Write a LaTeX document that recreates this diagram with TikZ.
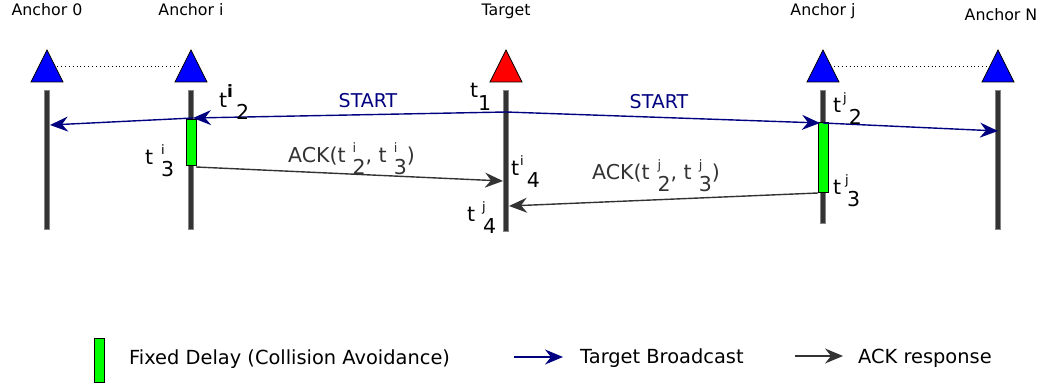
\documentclass[tikz,border=0pt]{standalone}
\usepackage{fontspec}
\setmainfont{DejaVu Sans}
\usetikzlibrary{arrows.meta}
\definecolor{navy}{HTML}{000080}
\definecolor{dgray}{HTML}{333333}
\definecolor{lgreen}{HTML}{00FF00}
\definecolor{tred}{HTML}{FF0000}
\definecolor{tblue}{HTML}{0000FF}
\newcommand\sps[1]{\raisebox{0.5em}{\fontsize{13}{13}\selectfont #1}}
\newcommand\sbs[1]{\raisebox{-0.55em}{#1}}
\begin{document}
\begin{tikzpicture}[x=1pt,y=-1pt,
  lifeline/.style={draw=dgray!60, fill=dgray, minimum width=5pt, inner sep=0pt, line width=0.4pt},
  delay/.style={draw=black, fill=lgreen, minimum width=10pt, inner sep=0pt, line width=1pt},
  antenna/.style={draw=black, line width=0.8pt},
  bcast/.style={draw=navy, line width=1.4pt, -{Stealth[length=18pt,width=15pt,inset=6pt]}},
  ack/.style={draw=dgray, line width=1.4pt, -{Stealth[length=18pt,width=15pt,inset=6pt]}},
  head/.style={font=\fontsize{15.8}{18}\selectfont, text=black},
  tlab/.style={font=\fontsize{20.5}{24}\selectfont, anchor=base west, inner sep=0pt},
  linkdots/.style={draw=black, line width=0.9pt, dash pattern=on 0.9pt off 3pt},
  legtext/.style={font=\fontsize{19.4}{23}\selectfont, anchor=base west, inner sep=0pt}
]
\useasboundingbox (0,0) rectangle (1047,387);

% headers
\node[head] (h0) at (47,10) {Anchor 0};
\node[head] (hi) at (191,10) {Anchor i};
\node[head] (ht) at (506,11) {Target};
\node[head] (hj) at (823,11) {Anchor j};
\node[head] (hN) at (1001,15) {Anchor N};

% antennas
\filldraw[antenna, fill=tblue] (31,82) -- (47,50) -- (63,82) -- cycle;
\filldraw[antenna, fill=tblue] (175,82) -- (191,50) -- (207,82) -- cycle;
\filldraw[antenna, fill=tred] (490,82) -- (506,50) -- (522,82) -- cycle;
\filldraw[antenna, fill=tblue] (807,82) -- (823,50) -- (839,82) -- cycle;
\filldraw[antenna, fill=tblue] (982,82) -- (998,50) -- (1014,82) -- cycle;
\coordinate (d0a) at (57,66);
\coordinate (d0b) at (182,66);
\coordinate (dja) at (834,66);
\coordinate (djb) at (988,66);
\draw[linkdots] (d0a) -- (d0b);
\draw[linkdots] (dja) -- (djb);

% lifelines
\node[lifeline, minimum height=139pt] (l0) at (47,159.5) {};
\node[lifeline, minimum height=139pt] (li) at (191,159.5) {};
\node[lifeline, minimum height=141pt] (lt) at (506,160.5) {};
\node[lifeline, minimum height=133pt] (lj) at (823,156.5) {};
\node[lifeline, minimum height=139pt] (lN) at (998,159.5) {};

% delays
\node[delay, minimum height=46pt] (di) at (191,143) {};
\node[delay, minimum height=70pt] (dj) at (823,158) {};

% broadcast
\coordinate (s0) at (506,112);
\coordinate (ri) at (193,118);
\coordinate (r0) at (50,125);
\coordinate (rj) at (820,123);
\coordinate (rj2) at (823,123);
\coordinate (rN) at (998,131);
\draw[bcast] (s0) -- (ri);
\draw[bcast] (ri) -- (r0);
\draw[bcast] (s0) -- (rj);
\draw[bcast] (rj2) -- (rN);
\node[font=\fontsize{19}{23}\selectfont, text=navy] (st1) at (368,101) {START};
\node[font=\fontsize{19}{23}\selectfont, text=navy] (st2) at (659,102) {START};

% acks
\coordinate (ai) at (196,167);
\coordinate (ait) at (503,181);
\coordinate (aj) at (818,193);
\coordinate (ajt) at (509,206);
\draw[ack] (ai) -- (ait);
\draw[ack] (aj) -- (ajt);
\node[tlab, text=dgray] (acki) at (288,163) {ACK(t\hspace{7pt}\rlap{\sps{i}}\sbs{2}, t\hspace{7pt}\rlap{\sps{i}}\sbs{3})};
\node[tlab, text=dgray] (ackj) at (592,180) {ACK(t\hspace{8pt}\rlap{\sps{j}}\sbs{2}, t\hspace{7pt}\rlap{\sps{j}}\sbs{3})};

% time labels
\node[tlab] (t1) at (470,98) {t\raisebox{-0.6em}{1}};
\node[tlab] (ti2) at (219,108) {t\raisebox{0.5em}{\fontsize{17}{17}\selectfont\bfseries i}\hspace{3pt}\sbs{2}};
\node[tlab] (ti3) at (145,165) {t\hspace{8pt}\rlap{\sps{i}}\sbs{3}};
\node[tlab] (ti4) at (511,176) {t\hspace{1pt}\sps{i}\hspace{3pt}\sbs{4}};
\node[tlab] (tj4) at (467,222) {t\hspace{7pt}\rlap{\sps{j}}\hspace{1pt}\sbs{4}};
\node[tlab] (tj2) at (833,113) {t\hspace{2pt}\sps{j}\hspace{2pt}\sbs{2}};
\node[tlab] (tj3) at (833,195) {t\hspace{4pt}\rlap{\sps{j}}\hspace{2pt}\sbs{3}};

% legend
\node[delay, minimum height=43pt] (lgd) at (99,360.5) {};
\node[legtext] (lg1) at (129,364) {Fixed Delay (Collision Avoidance)};
\coordinate (lba) at (514,357);
\coordinate (lbb) at (563,357);
\draw[bcast] (lba) -- (lbb);
\node[legtext] (lg2) at (580,363) {Target Broadcast};
\coordinate (laa) at (795,356);
\coordinate (lab) at (843,356);
\draw[ack] (laa) -- (lab);
\node[legtext] (lg3) at (858,363) {ACK response};
\end{tikzpicture}
\end{document}
